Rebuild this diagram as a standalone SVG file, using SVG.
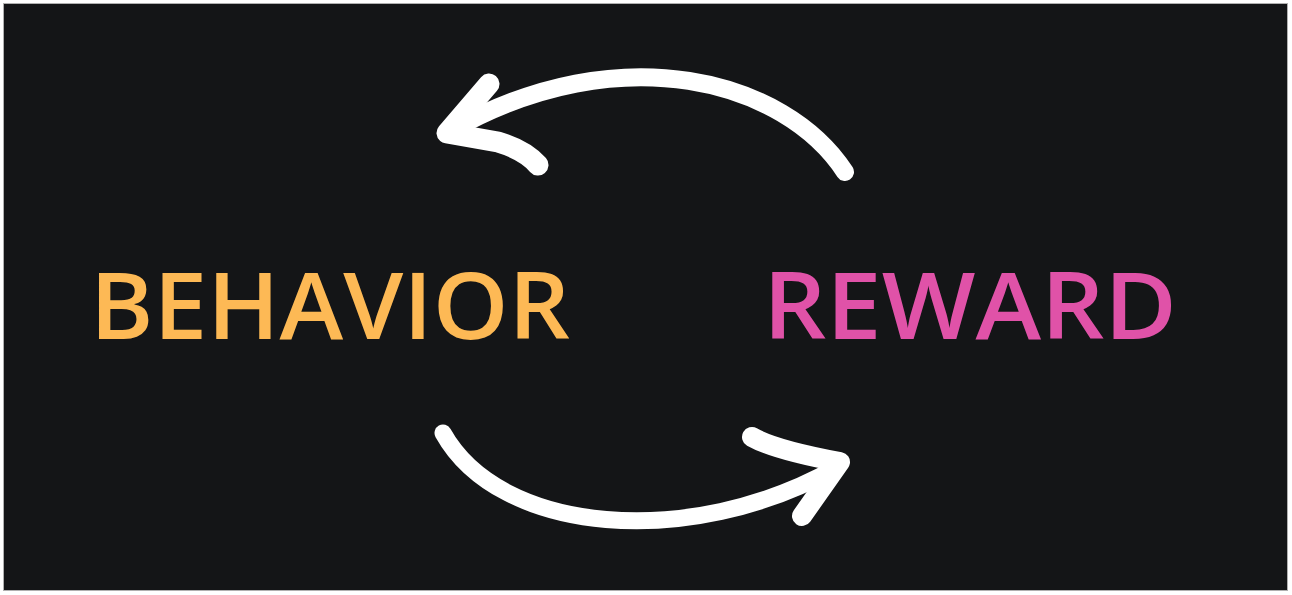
<svg xmlns="http://www.w3.org/2000/svg" width="1292" height="595" viewBox="0 0 1292 595">
<style>
.lbl{font-family:"Open Sans","Liberation Sans",sans-serif;font-size:92px;font-weight:600}
.arc{fill:none;stroke:#ffffff;stroke-linecap:round;stroke-linejoin:round}
</style>
<rect x="0" y="0" width="1292" height="595" fill="#ffffff"/>
<rect x="3.5" y="3.5" width="1284" height="587" fill="#141517" stroke="#b0b0b0" stroke-width="1"/>
<g id="behavior"><text class="lbl" x="90" y="339" fill="#fdb955" textLength="480" lengthAdjust="spacingAndGlyphs">BEHAVIOR</text></g>
<g id="reward"><text class="lbl" x="763" y="339" fill="#e052a8" textLength="414" lengthAdjust="spacingAndGlyphs">REWARD</text></g>
<g id="connectors">
<path class="arc" stroke-width="18" d="M845,172 C785,80 620,35 452,130"/>
<path class="arc" stroke-width="21" d="M489,84 L447,133 L498,142 Q525,150 538,165"/>
<path class="arc" stroke-width="17" d="M443,433 C500,535 690,550 836,468"/>
<path class="arc" stroke-width="20" d="M752,437 Q775,450 840,462 L802,516"/>
</g>
</svg>
